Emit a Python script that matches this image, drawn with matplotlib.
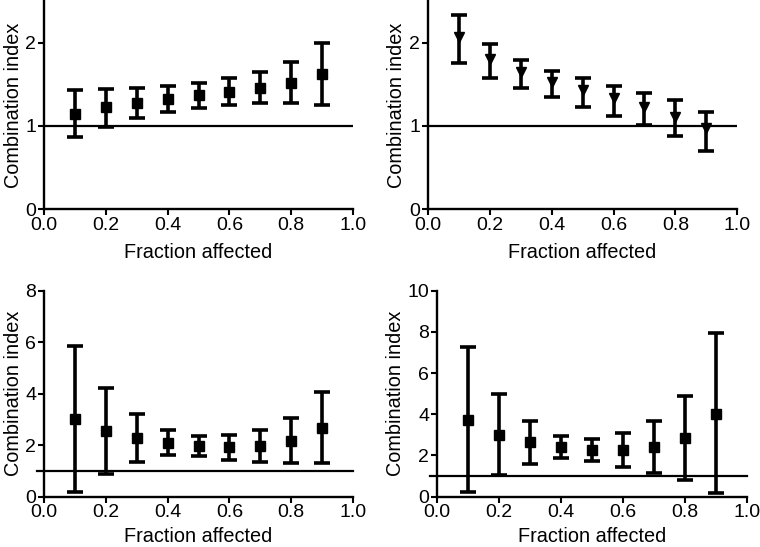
import matplotlib
matplotlib.use("Agg")
import matplotlib.pyplot as plt
import numpy as np

plt.rcParams['font.family'] = ['Liberation Sans', 'DejaVu Sans']

fa = [0.1, 0.2, 0.3, 0.4, 0.5, 0.6, 0.7, 0.8, 0.9]

ci_a = [1.14, 1.22, 1.27, 1.32, 1.37, 1.41, 1.46, 1.52, 1.62]
lo_a = [0.86, 0.99, 1.09, 1.16, 1.21, 1.25, 1.27, 1.27, 1.25]
hi_a = [1.43, 1.44, 1.46, 1.48, 1.52, 1.57, 1.65, 1.77, 1.99]

ci_b = [2.07, 1.80, 1.65, 1.53, 1.43, 1.33, 1.23, 1.11, 0.97]
lo_b = [1.75, 1.58, 1.45, 1.35, 1.23, 1.12, 1.01, 0.88, 0.70]
hi_b = [2.33, 1.98, 1.79, 1.66, 1.57, 1.48, 1.39, 1.31, 1.17]

ci_c = [3.01, 2.55, 2.29, 2.10, 1.97, 1.91, 1.97, 2.16, 2.66]
lo_c = [0.18, 0.88, 1.35, 1.63, 1.58, 1.44, 1.33, 1.29, 1.29]
hi_c = [5.85, 4.23, 3.23, 2.57, 2.34, 2.39, 2.59, 3.05, 4.05]

ci_d = [3.74, 3.01, 2.64, 2.41, 2.27, 2.25, 2.43, 2.83, 4.03]
lo_d = [0.23, 1.05, 1.60, 1.86, 1.73, 1.44, 1.13, 0.79, 0.16]
hi_d = [7.28, 4.97, 3.67, 2.95, 2.78, 3.07, 3.69, 4.87, 7.94]

x_ticks = [0.0, 0.2, 0.4, 0.6, 0.8, 1.0]
x_ticklabels = ["0.0", "0.2", "0.4", "0.6", "0.8", "1.0"]

fig = plt.figure(figsize=(7.6, 5.47), dpi=100)

panels = [
    dict(rect=[0.0579, 0.6179, 0.4066, 0.3803], ci=ci_a, lo=lo_a, hi=hi_a,
         marker='s', ms=7, ylim=2.5, yticks=[0, 1, 2], extend=False, xpad=7),
    dict(rect=[0.5628, 0.6179, 0.4074, 0.3803], ci=ci_b, lo=lo_b, hi=hi_b,
         marker='v', ms=6.5, ylim=2.5, yticks=[0, 1, 2], extend=False, xpad=7),
    dict(rect=[0.0579, 0.0920, 0.4066, 0.3766], ci=ci_c, lo=lo_c, hi=hi_c,
         marker='s', ms=7, ylim=8, yticks=[0, 2, 4, 6, 8], extend=True, xpad=4),
    dict(rect=[0.5746, 0.0920, 0.4079, 0.3766], ci=ci_d, lo=lo_d, hi=hi_d,
         marker='s', ms=7, ylim=10, yticks=[0, 2, 4, 6, 8, 10], extend=True, xpad=4),
]

for p in panels:
    ax = fig.add_axes(p['rect'])
    ci = np.array(p['ci'])
    yerr = [ci - np.array(p['lo']), np.array(p['hi']) - ci]
    ax.errorbar(fa, ci, yerr=yerr, fmt=p['marker'], color='black', ms=p['ms'],
                elinewidth=2.6, capsize=5.5, capthick=2.6, zorder=3, clip_on=False)
    if p['extend']:
        ax.axhline(1, xmin=-0.022, xmax=1, color='black', lw=1.6, clip_on=False, zorder=2)
    else:
        ax.axhline(1, color='black', lw=1.6, zorder=2)
    ax.set_xlim(0, 1)
    ax.set_ylim(0, p['ylim'])
    ax.set_xticks(x_ticks)
    ax.set_xticklabels(x_ticklabels)
    ax.set_yticks(p['yticks'])
    ax.set_yticklabels([str(t) for t in p['yticks']])
    for s in ['top', 'right']:
        ax.spines[s].set_visible(False)
    for s in ['left', 'bottom']:
        ax.spines[s].set_linewidth(1.7)
    ax.tick_params(axis='both', direction='out', length=4, width=1.5,
                   labelsize=14, pad=1.5, color='black')
    ax.set_xlabel("Fraction affected", fontsize=14.3, labelpad=p['xpad'])
    ax.set_ylabel("Combination index", fontsize=14.3, labelpad=2)

fig.savefig("out.png", dpi=100)
